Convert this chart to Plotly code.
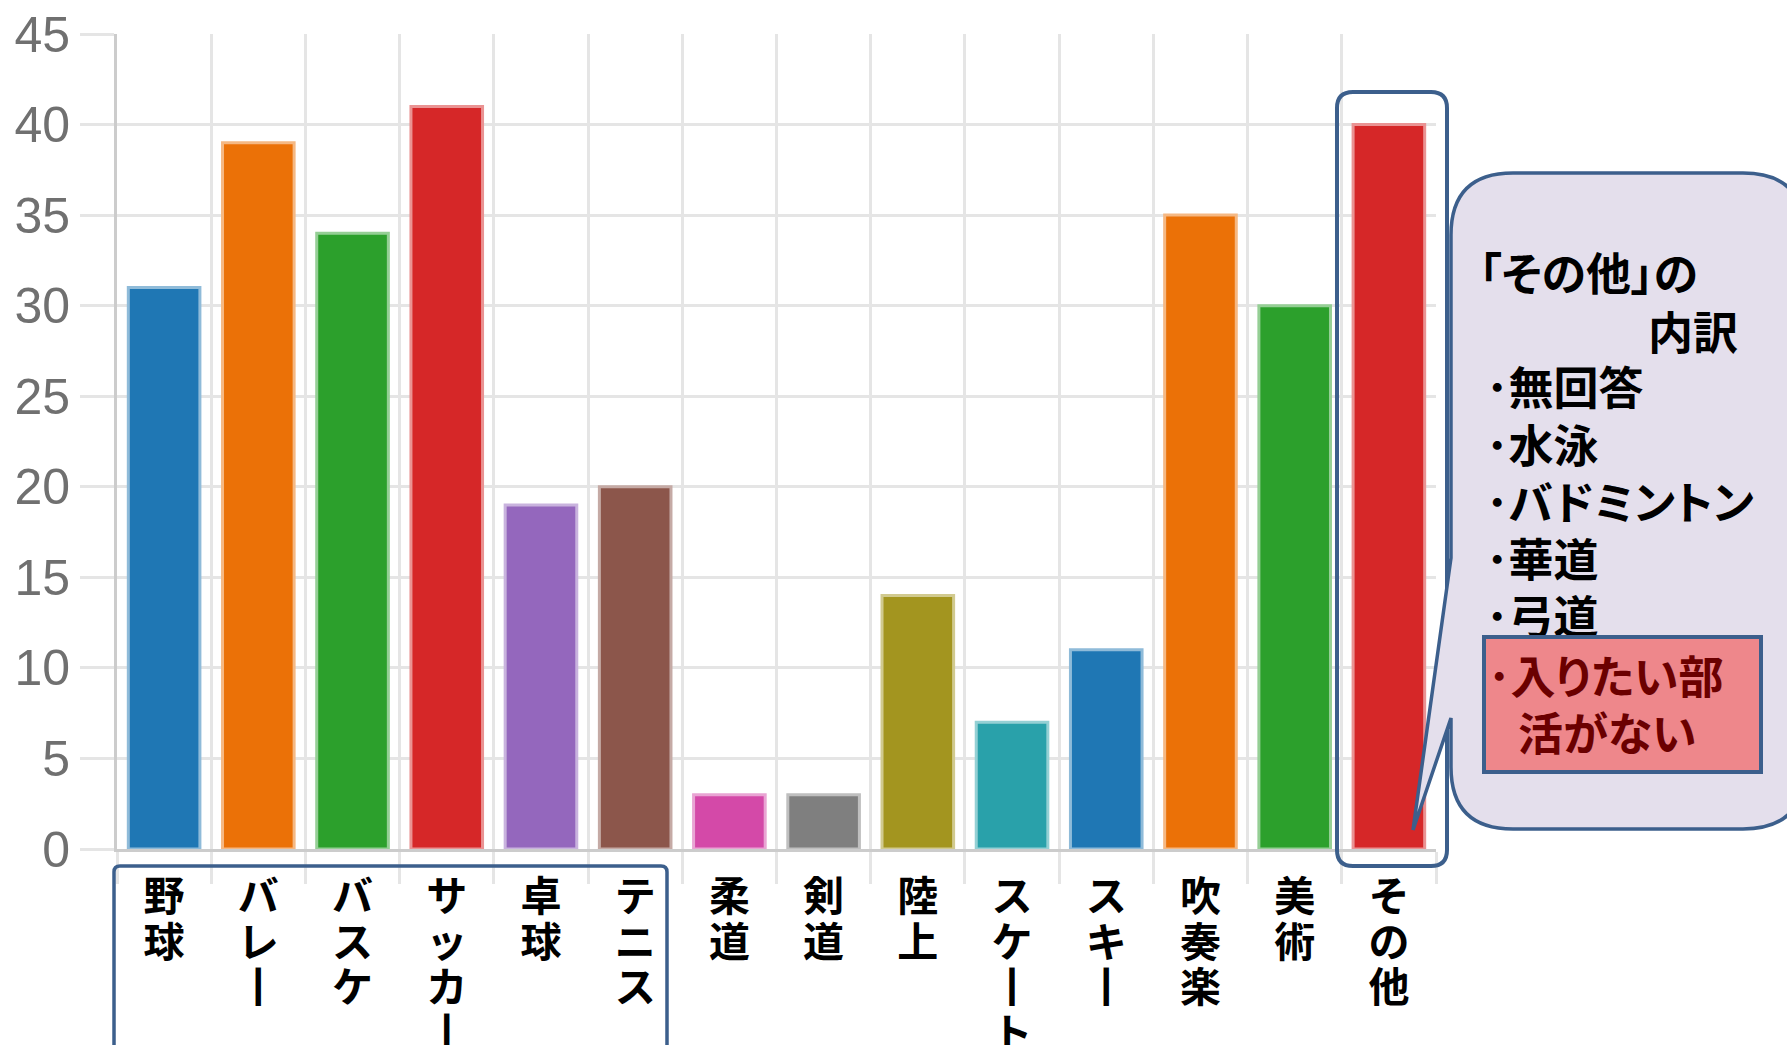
import plotly.graph_objects as go

# ---- data ----
categories = ["野球", "バレー", "バスケ", "サッカー", "卓球", "テニス", "柔道", "剣道",
              "陸上", "スケート", "スキー", "吹奏楽", "美術", "その他"]
values = [31, 39, 34, 41, 19, 20, 3, 3, 14, 7, 11, 35, 30, 40]
bar_colors = ["#1f77b4", "#eb7107", "#2ca02c", "#d62728", "#9467bd", "#8c564b", "#d449a8",
              "#7f7f7f", "#a3951f", "#29a1aa", "#1f77b4", "#eb7107", "#2ca02c", "#d62728"]
y_ticks = [0, 5, 10, 15, 20, 25, 30, 35, 40, 45]
note_title = ["「その他」の", "内訳"]
note_items = ["･無回答", "･水泳", "･バドミントン", "･華道", "･弓道"]
note_highlight = ["･入りたい部", "活がない"]

# ---- layout constants (pixels) ----
W, H = 1787, 1045
ML, MR, MT, MB = 117, 351, 34, 196
PW, PH = W - ML - MR, H - MT - MB
BLUE = "#3c5f8c"
FONT = "Noto Sans CJK JP"


def px(x):
    return (x - ML) / PW


def py(y):
    return (H - MB - y) / PH


def tint(c, f=0.5):
    r, g, b = int(c[1:3], 16), int(c[3:5], 16), int(c[5:7], 16)
    r, g, b = [int(v + (255 - v) * f) for v in (r, g, b)]
    return f"rgb({r},{g},{b})"


def vertical(label):
    chars = [ch if ch != "ー" else "丨" for ch in label]
    return "<br>".join(f'<span style="font-size:41px">{ch}</span>' for ch in chars)


def palt(t):
    return f"<span style=\"font-feature-settings:'palt'\">{t}</span>"


def rounded_path(x0, y0, x1, y1, r, notch=None):
    # pixel coords, y down; notch = (y_upper, y_lower, tipx, tipy) on left edge
    P = lambda x, y: f"{px(x):.5f},{py(y):.5f}"
    d = f"M {P(x0 + r, y0)} L {P(x1 - r, y0)} Q {P(x1, y0)} {P(x1, y0 + r)} "
    d += f"L {P(x1, y1 - r)} Q {P(x1, y1)} {P(x1 - r, y1)} L {P(x0 + r, y1)} "
    d += f"Q {P(x0, y1)} {P(x0, y1 - r)} "
    if notch:
        yu, yl, tx, ty = notch
        d += f"L {P(x0, yl)} L {P(tx, ty)} L {P(x0, yu)} "
    d += f"L {P(x0, y0 + r)} Q {P(x0, y0)} {P(x0 + r, y0)} Z"
    return d


fig = go.Figure()
fig.add_trace(go.Bar(
    x=categories, y=values,
    marker=dict(color=bar_colors, line=dict(color=[tint(c) for c in bar_colors], width=3)),
    hoverinfo="x+y",
))

shapes = [
    # box around the first six labels
    dict(type="path", xref="paper", yref="paper", layer="above",
         path=rounded_path(114, 866, 667, 1070, 6), line=dict(color=BLUE, width=3.5)),
    # box around "その他" bar
    dict(type="path", xref="paper", yref="paper", layer="above",
         path=rounded_path(1337, 92, 1447, 866, 16), line=dict(color=BLUE, width=4)),
    # speech bubble
    dict(type="path", xref="paper", yref="paper", layer="above",
         path=rounded_path(1451, 173, 1805, 829, 62, notch=(558, 718, 1413, 830)),
         fillcolor="#e4dfec", line=dict(color=BLUE, width=3.5)),
]

font_note = dict(family=FONT, size=45, color="#000000", weight="bold")
annotations = []
annotations.append(dict(x=px(1477), y=py(271), text=palt(note_title[0]), xanchor="left", yanchor="middle"))
annotations.append(dict(x=px(1740), y=py(330), text=palt(note_title[1]), xanchor="right", yanchor="middle"))
for i, t in enumerate(note_items):
    annotations.append(dict(x=px(1484), y=py(386 + 57 * i), text=palt(t), xanchor="left", yanchor="middle"))
for a in annotations:
    a.update(xref="paper", yref="paper", showarrow=False, font=font_note)

# red highlight box (annotation so it covers the text beneath)
annotations.append(dict(xref="paper", yref="paper", x=px(1482), y=py(635), xanchor="left", yanchor="top",
                        text=" ", showarrow=False, width=273, height=131, borderpad=0,
                        bgcolor="#ee878b", bordercolor=BLUE, borderwidth=4,
                        font=dict(size=10)))
for t, x, y in zip(note_highlight, [1486, 1516], [674, 731]):
    annotations.append(dict(xref="paper", yref="paper", x=px(x), y=py(y), text=palt(t),
                            xanchor="left", yanchor="middle", showarrow=False,
                            font=dict(family=FONT, size=45, color="#6b0000", weight="bold")))

fig.update_layout(
    width=W, height=H,
    margin=dict(l=ML, r=MR, t=MT, b=MB, pad=0, autoexpand=False),
    paper_bgcolor="white", plot_bgcolor="white",
    showlegend=False, bargap=0.24,
    shapes=shapes, annotations=annotations,
    xaxis=dict(
        type="category", tickson="boundaries", automargin=False,
        tickmode="array", tickvals=categories, ticktext=[vertical(c) for c in categories],
        tickfont=dict(family=FONT, size=35, color="#000000", weight="bold"),
        ticklabelstandoff=17,
        showgrid=True, gridcolor="#e5e5e5", gridwidth=3,
        ticks="outside", ticklen=32, tickcolor="#e5e5e5", tickwidth=3,
        showline=True, linecolor="#cccccc", linewidth=3,
        range=[-0.5, 13.5],
    ),
    yaxis=dict(
        range=[0, 45], tickmode="array", tickvals=y_ticks, automargin=False,
        tickfont=dict(family="Liberation Sans", size=50, color="#707070"),
        showgrid=True, gridcolor="#e5e5e5", gridwidth=3, zeroline=False,
        ticks="outside", ticklen=34, tickcolor="#e5e5e5", tickwidth=3,
        showline=True, linecolor="#cccccc", linewidth=3,
    ),
)

fig.write_html("out.html")
